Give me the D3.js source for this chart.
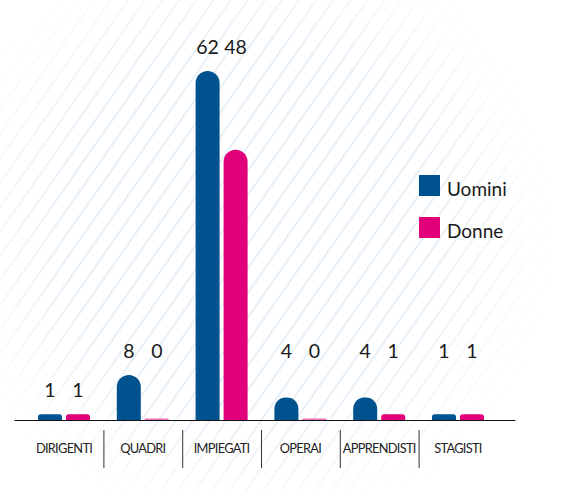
<!DOCTYPE html>
<html>
<head>
<meta charset="utf-8">
<script src="https://cdn.jsdelivr.net/npm/d3@7"></script>
<style>
  html, body { margin: 0; padding: 0; background: #fff; }
  svg { display: block; }
</style>
</head>
<body>
<svg id="chart" width="565" height="491"></svg>
<script>
// Personale per categoria e genere
const categories = ["DIRIGENTI", "QUADRI", "IMPIEGATI", "OPERAI", "APPRENDISTI", "STAGISTI"];
const seriesNames = ["Uomini", "Donne"];
const uomini = [1, 8, 62, 4, 4, 1];
const donne  = [1, 0, 48, 0, 1, 1];

const colors = { Uomini: "#00538f", Donne: "#e2007a" };

const W = 565, H = 491;
const baseline = 420, plotTop = 71;
const svg = d3.select("#chart");

// faded diagonal hatch behind the plot
const defs = svg.append("defs");
const pat = defs.append("pattern")
  .attr("id", "hatch")
  .attr("patternUnits", "userSpaceOnUse")
  .attr("width", 14).attr("height", 14)
  .attr("patternTransform", "rotate(35)");
pat.append("line")
  .attr("x1", 7).attr("y1", 0).attr("x2", 7).attr("y2", 14)
  .attr("stroke", "#d9e6f1").attr("stroke-width", 1.2);

const grad = defs.append("radialGradient")
  .attr("id", "fade")
  .attr("gradientUnits", "userSpaceOnUse")
  .attr("cx", 250).attr("cy", 230).attr("r", 310);
grad.append("stop").attr("offset", 0).attr("stop-color", "#fff").attr("stop-opacity", 1);
grad.append("stop").attr("offset", 0.6).attr("stop-color", "#fff").attr("stop-opacity", 1);
grad.append("stop").attr("offset", 1).attr("stop-color", "#fff").attr("stop-opacity", 0);
defs.append("mask").attr("id", "fadeMask")
  .append("rect").attr("width", W).attr("height", H).attr("fill", "url(#fade)");

svg.append("rect").attr("width", W).attr("height", H).attr("fill", "#fff");
svg.append("rect").attr("width", W).attr("height", H)
  .attr("fill", "url(#hatch)").attr("mask", "url(#fadeMask)");

// scales
const x = d3.scaleBand().domain(categories).range([24.6, 497.4]).padding(0);
const groupW = 52;
const xSub = d3.scaleBand().domain(seriesNames).range([0, groupW])
  .paddingInner(4 / 28).paddingOuter(0);
const y = d3.scaleLinear()
  .domain([0, d3.max(uomini.concat(donne))])
  .range([baseline, plotTop]);

const rows = categories.map((c, i) => ({
  cat: c, i,
  values: [{ s: "Uomini", v: uomini[i] }, { s: "Donne", v: donne[i] }]
}));

// bar with rounded top corners only
function barPath(x0, w, top, bottom) {
  const h = bottom - top;
  const r = Math.min(w / 2, h / 2);
  return `M${x0},${bottom} V${top + r} A${r},${r} 0 0 1 ${x0 + r},${top}` +
         ` H${x0 + w - r} A${r},${r} 0 0 1 ${x0 + w},${top + r} V${bottom} Z`;
}

const groups = svg.append("g").selectAll("g").data(rows).join("g")
  .attr("transform", d => `translate(${x(d.cat) + (x.bandwidth() - groupW) / 2},0)`);

groups.selectAll("path").data(d => d.values).join("path")
  .attr("fill", d => colors[d.s])
  .attr("opacity", d => d.v === 0 ? 0.55 : 1)
  .attr("d", d => {
    const top = Math.min(y(d.v), baseline - 1.6); // keep empty bars visible as a thin stub
    return barPath(xSub(d.s), xSub.bandwidth(), top, baseline);
  });

// value labels: above the taller bar; groups right of the peak share one shelf
const gap = 17;
const groupMax = rows.map(r => d3.max(r.values, v => v.v));
const peak = d3.maxIndex(groupMax);
const shelfY = y(d3.max(groupMax.filter((m, i) => i !== peak))) - gap;
const labelY = i => i > peak ? shelfY : y(groupMax[i]) - gap;

groups.selectAll("text.val").data(d => d.values.map(v => ({ ...v, i: d.i }))).join("text")
  .attr("class", "val")
  .attr("x", d => xSub(d.s) + xSub.bandwidth() / 2)
  .attr("y", d => labelY(d.i))
  .attr("text-anchor", "middle")
  .attr("font-family", "Lato, 'DejaVu Sans', sans-serif")
  .attr("font-size", 19.5)
  .attr("fill", "#1a1a1a")
  .text(d => d.v);

// baseline
svg.append("line")
  .attr("x1", x.range()[0] - 10).attr("x2", x.range()[1] + 18)
  .attr("y1", baseline + 0.5).attr("y2", baseline + 0.5)
  .attr("stroke", "#111").attr("stroke-width", 1.2);

// category axis with separators between bands
const axisG = svg.append("g").attr("transform", `translate(0,${baseline})`);
const xAxis = d3.axisBottom(x).tickSize(0).tickPadding(24);
axisG.call(xAxis);
axisG.select(".domain").remove();
axisG.selectAll(".tick text")
  .attr("font-family", "Lato, 'DejaVu Sans', sans-serif")
  .attr("font-size", 12.8)
  .attr("letter-spacing", "-0.7px")
  .attr("fill", "#222");

svg.append("g").selectAll("line").data(categories.slice(1)).join("line")
  .attr("x1", d => x(d) + 0.5).attr("x2", d => x(d) + 0.5)
  .attr("y1", baseline + 10).attr("y2", baseline + 48)
  .attr("stroke", "#333").attr("stroke-width", 1);

// legend
const legend = svg.append("g").attr("transform", "translate(419,175)");
const li = legend.selectAll("g").data(seriesNames).join("g")
  .attr("transform", (d, i) => `translate(0,${i * 42})`);
li.append("rect").attr("width", 21).attr("height", 21).attr("fill", d => colors[d]);
li.append("text")
  .attr("x", 28).attr("y", 20.5)
  .attr("font-family", "Lato, 'DejaVu Sans', sans-serif")
  .attr("font-size", 19)
  .attr("fill", "#1a1a1a")
  .text(d => d);
</script>
</body>
</html>
